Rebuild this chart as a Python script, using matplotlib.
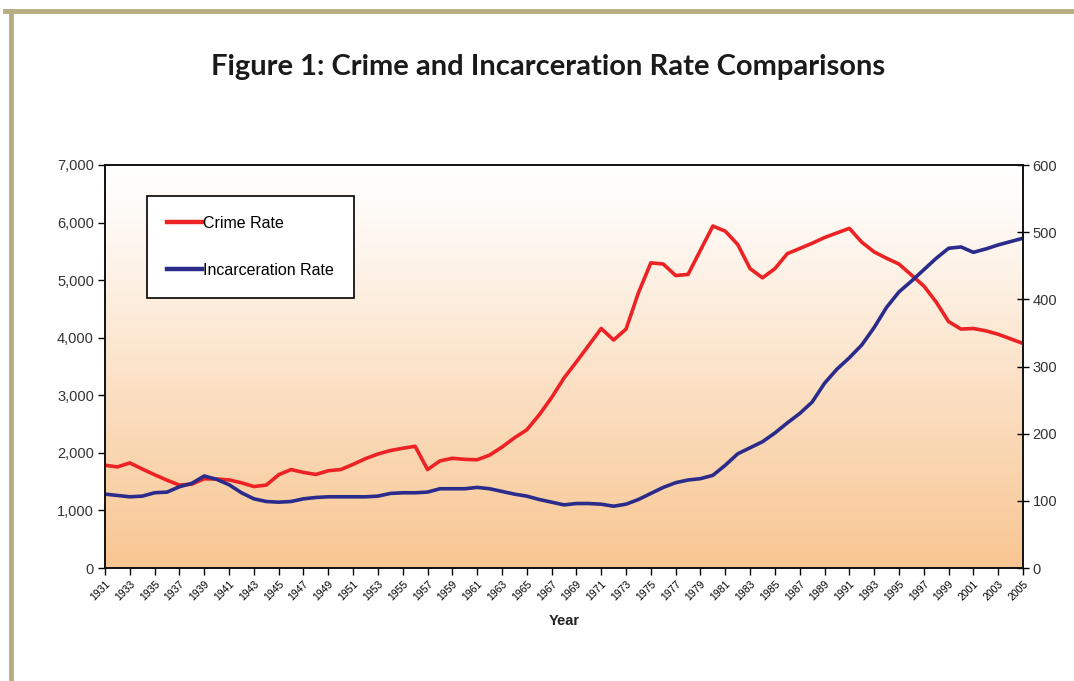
import numpy as np
import matplotlib
matplotlib.use('Agg')
import matplotlib.pyplot as plt
from matplotlib.colors import LinearSegmentedColormap
from matplotlib.ticker import FuncFormatter, MultipleLocator
from matplotlib.lines import Line2D

# data
years = list(range(1931, 2006))
crime_rate = [
    1785, 1756, 1825, 1720, 1620, 1525, 1440, 1456, 1550, 1545,   # 1931-1940
    1530, 1480, 1415, 1440, 1620, 1710, 1660, 1625, 1690, 1710,   # 1941-1950
    1800, 1900, 1980, 2040, 2080, 2114, 1710, 1860, 1906, 1887,   # 1951-1960
    1880, 1960, 2100, 2260, 2400, 2660, 2960, 3300, 3580, 3870,   # 1961-1970
    4160, 3960, 4150, 4780, 5300, 5280, 5080, 5100, 5520, 5940,   # 1971-1980
    5850, 5620, 5200, 5040, 5200, 5460, 5550, 5640, 5740, 5820,   # 1981-1990
    5900, 5660, 5490, 5380, 5280, 5090, 4900, 4620, 4280, 4150,   # 1991-2000
    4160, 4120, 4060, 3980, 3900,                                 # 2001-2005
]
incarceration_rate = [
    110, 108, 106, 107, 112, 113, 121, 126, 137, 132,   # 1931-1940
    124, 112, 103, 99, 98, 99, 103, 105, 106, 106,      # 1941-1950
    106, 106, 107, 111, 112, 112, 113, 118, 118, 118,   # 1951-1960
    120, 118, 114, 110, 107, 102, 98, 94, 96, 96,       # 1961-1970
    95, 92, 95, 102, 111, 120, 127, 131, 133, 138,      # 1971-1980
    153, 170, 179, 188, 201, 216, 230, 247, 275, 296,   # 1981-1990
    313, 332, 358, 388, 411, 427, 444, 461, 476, 478,   # 1991-2000
    470, 475, 481, 486, 491,                            # 2001-2005
]
year_ticks = years[::2]

RED = '#EC2224'
BLUE = '#2A2B8A'

fig = plt.figure(figsize=(10.74, 6.81), dpi=100)
fig.patch.set_facecolor('white')

# tan frame (top and left edges)
frame = '#B7AD82'
fig.add_artist(Line2D([0.005, 1.0], [1 - 11 / 681] * 2, color=frame, lw=3.5,
                      transform=fig.transFigure))
fig.add_artist(Line2D([11 / 1074] * 2, [0, 1 - 11 / 681], color=frame, lw=3.5,
                      transform=fig.transFigure))

fig.text(0.51, 1 - 67 / 681, 'Figure 1: Crime and Incarceration Rate Comparisons',
         ha='center', va='center', fontsize=21, fontweight='bold',
         family='Lato', color='#1a1a1a')

ax = fig.add_axes([105 / 1074, 1 - 568 / 681, 918 / 1074, 403 / 681])
ax2 = ax.twinx()

# white-to-peach background gradient
cmap = LinearSegmentedColormap.from_list('bg', [(0, '#F8C692'), (0.45, '#FBE0C4'),
                                                (0.8, '#FEF6EE'), (1, '#FFFFFF')])
grad = np.linspace(0, 1, 256).reshape(-1, 1)
ax.imshow(grad, aspect='auto', cmap=cmap, origin='lower',
          extent=[1931, 2005, 0, 7000], zorder=0)

ax.plot(years, crime_rate, color=RED, lw=2.6, label='Crime Rate', zorder=3,
        solid_capstyle='round', solid_joinstyle='round')
ax2.plot(years, incarceration_rate, color=BLUE, lw=2.6, label='Incarceration Rate',
         solid_capstyle='round', solid_joinstyle='round')

ax.set_xlim(1931, 2005)
ax.set_ylim(0, 7000)
ax2.set_ylim(0, 600)
ax.yaxis.set_major_locator(MultipleLocator(1000))
ax2.yaxis.set_major_locator(MultipleLocator(100))
ax.yaxis.set_major_formatter(FuncFormatter(lambda v, p: f'{int(v):,}'))

ax.set_xticks(year_ticks)
ax.set_xticklabels([str(y) for y in year_ticks], rotation=45, ha='right',
                   rotation_mode='anchor', fontsize=7.5, family='Liberation Sans')
ax.tick_params(axis='x', length=5, width=1, pad=3)
ax.tick_params(axis='y', length=5, width=1, labelsize=10.5, pad=3)
ax2.tick_params(axis='y', length=8, width=1, direction='inout', labelsize=10.5, pad=3)
for lab in ax.get_yticklabels() + ax2.get_yticklabels():
    lab.set_family('Liberation Sans')
    lab.set_color('#333333')

for a in (ax, ax2):
    for s in a.spines.values():
        s.set_color('#111111')
        s.set_linewidth(1.2)

ax.set_xlabel('Year', fontsize=10.5, fontweight='bold', family='Liberation Sans',
              labelpad=8, color='#222222')

handles = [Line2D([], [], color=RED, lw=3.2), Line2D([], [], color=BLUE, lw=3.2)]
leg = ax.legend(handles, ['Crime Rate', 'Incarceration Rate'],
                loc='upper left', bbox_to_anchor=(42 / 918, 1 - 31 / 403),
                frameon=True, fancybox=False, edgecolor='black', facecolor='white',
                framealpha=1, labelspacing=2.0, borderpad=1.25,
                handlelength=2.2, handletextpad=0.05, borderaxespad=0,
                prop={'family': 'Liberation Sans', 'size': 11.5})
leg.get_frame().set_linewidth(1.2)
leg.set_zorder(5)

fig.savefig('out.png', dpi=100)
